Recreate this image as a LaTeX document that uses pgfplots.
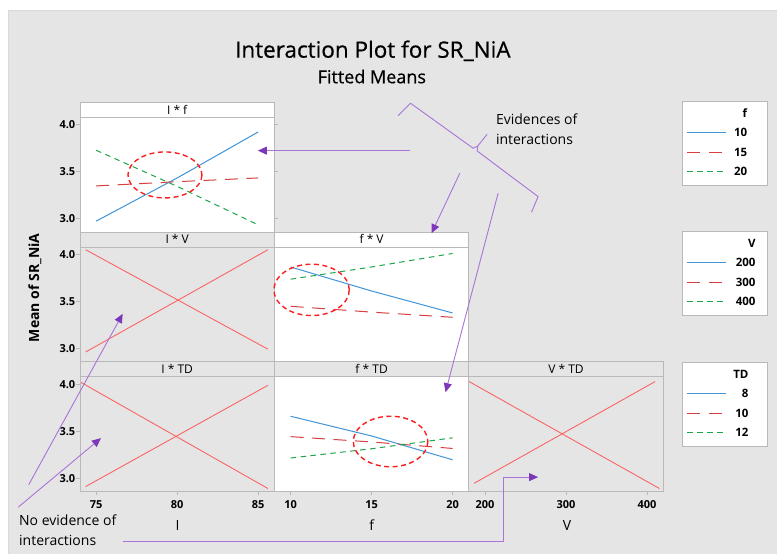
\documentclass[border=0pt]{standalone}
\usepackage{fontspec}
\setmainfont{Open Sans}
\newfontfamily\mdfont{Open Sans}[FakeBold=0.6]
\usepackage{pgfplots}
\pgfplotsset{compat=1.18}
\usetikzlibrary{arrows.meta}
\definecolor{bg}{RGB}{229,229,229}
\definecolor{bord}{RGB}{185,185,185}
\definecolor{mblue}{RGB}{64,148,216}
\definecolor{mred}{RGB}{214,64,64}
\definecolor{mgreen}{RGB}{30,165,75}
\definecolor{xred}{RGB}{250,100,100}
\definecolor{ellred}{RGB}{250,30,30}
\definecolor{purp}{RGB}{125,55,185}
\definecolor{purpl}{RGB}{170,115,215}
\tikzset{
  bl/.style={color=mblue, line width=1pt},
  rd/.style={color=mred, line width=1pt, dash pattern=on 13pt off 8.5pt},
  gr/.style={color=mgreen, line width=1pt, dash pattern=on 5.5pt off 4.5pt},
  xl/.style={color=xred, line width=0.9pt},
  legtext/.style={anchor=base east, font=\fontsize{11.5}{14}\selectfont\bfseries},
}
\pgfplotsset{
  panel/.style={scale only axis, width=194.5pt, height=115pt, anchor=south west,
    ymin=2.855, ymax=4.08,
    axis line style={draw=bord, line width=0.8pt},
    tick align=outside, major tick length=3.5pt,
    tick style={draw=bord, line width=0.8pt},
    xtick=\empty, ytick=\empty,
    tick label style={font=\fontsize{11}{13}\selectfont\bfseries},
    yticklabel style={inner sep=1pt},
    xticklabel style={inner sep=2pt, yshift=-3pt},
  },
  ylab/.style={ytick={3,3.5,4}, yticklabels={3.0,3.5,4.0}},
  legbox/.style={scale only axis, width=85pt, height=84pt, anchor=south west,
    xmin=0, xmax=85, ymin=0, ymax=84, xtick=\empty, ytick=\empty,
    axis line style={draw=bord, line width=0.8pt},
    axis background/.style={fill=white}},
}
\begin{document}
\begin{tikzpicture}[x=1pt,y=1pt]
\fill[white] (0,0) rectangle (777,554);
\fill[bg] (8,0) rectangle (777,544);
\draw[black!15, line width=0.6pt] (8,0) -- (8,544) -- (777,544);

% ---------- legend boxes ----------
\begin{axis}[legbox, at={(682.3pt,368.3pt)}]
\addplot[bl] coordinates {(5,53.2) (43.7,53.2)};
\addplot[rd] coordinates {(5,33.2) (43.7,33.2)};
\addplot[gr] coordinates {(5,14.2) (43.7,14.2)};
\node[legtext] at (axis cs:68.7,68.5) {f};
\node[legtext] at (axis cs:68.7,49) {10};
\node[legtext] at (axis cs:68.7,29) {15};
\node[legtext] at (axis cs:68.7,10.5) {20};
\end{axis}
\begin{axis}[legbox, at={(682.3pt,238.3pt)}]
\addplot[bl] coordinates {(5,53.2) (43.7,53.2)};
\addplot[rd] coordinates {(5,33.2) (43.7,33.2)};
\addplot[gr] coordinates {(5,14.2) (43.7,14.2)};
\node[legtext] at (axis cs:77,68.5) {V};
\node[legtext] at (axis cs:77,49) {200};
\node[legtext] at (axis cs:77,29) {300};
\node[legtext] at (axis cs:77,10.5) {400};
\end{axis}
\begin{axis}[legbox, at={(682.3pt,107.3pt)}]
\addplot[bl] coordinates {(5,53.2) (43.7,53.2)};
\addplot[rd] coordinates {(5,33.2) (43.7,33.2)};
\addplot[gr] coordinates {(5,14.2) (43.7,14.2)};
\node[legtext] at (axis cs:70,68.5) {TD};
\node[legtext] at (axis cs:70,49) {8};
\node[legtext] at (axis cs:70,29) {10};
\node[legtext] at (axis cs:70,10.5) {12};
\end{axis}

% ---------- row 1: I*f ----------
\begin{axis}[panel, ylab, at={(80pt,322pt)}, xmin=74, xmax=86,
  axis background/.style={fill=white}]
\addplot[bl] coordinates {(75,2.97) (80,3.43) (85,3.92)};
\addplot[rd] coordinates {(75,3.345) (80,3.39) (85,3.43)};
\addplot[gr] coordinates {(75,3.725) (80,3.34) (85,2.93)};
\end{axis}

% ---------- row 2: I*V ----------
\begin{axis}[panel, ylab, at={(80pt,192pt)}, xmin=74, xmax=86]
\addplot[xl] coordinates {(74.35,4.05) (85.6,2.99)};
\addplot[xl] coordinates {(74.35,2.96) (85.6,4.05)};
\end{axis}

% ---------- row 2: f*V ----------
\begin{axis}[panel, at={(274.5pt,192pt)}, xmin=9, xmax=21,
  axis background/.style={fill=white}]
\addplot[bl] coordinates {(10,3.866) (15,3.61) (20,3.376)};
\addplot[rd] coordinates {(10,3.447) (15,3.385) (20,3.33)};
\addplot[gr] coordinates {(10,3.736) (15,3.866) (20,4.01)};
\end{axis}

% ---------- row 3: I*TD ----------
\begin{axis}[panel, ylab, at={(80pt,62pt)}, xmin=74, xmax=86,
  xtick={75,80,85}, xticklabels={75,80,85}]
\addplot[xl] coordinates {(74.07,4.02) (85.6,2.89)};
\addplot[xl] coordinates {(74.34,2.91) (85.6,3.99)};
\end{axis}

% ---------- row 3: f*TD ----------
\begin{axis}[panel, at={(274.5pt,62pt)}, xmin=9, xmax=21,
  xtick={10,15,20}, xticklabels={10,15,20},
  axis background/.style={fill=white}]
\addplot[bl] coordinates {(10,3.66) (15,3.45) (20,3.196)};
\addplot[rd] coordinates {(10,3.443) (15,3.386) (20,3.317)};
\addplot[gr] coordinates {(10,3.215) (15,3.314) (20,3.43)};
\end{axis}

% ---------- row 3: V*TD ----------
\begin{axis}[panel, at={(469pt,62pt)}, xmin=180, xmax=420,
  xtick={200,300,400}, xticklabels={200,300,400}]
\addplot[xl] coordinates {(180.3,4.03) (415.3,2.89)};
\addplot[xl] coordinates {(186.4,2.945) (410,4.03)};
\end{axis}

\begin{scope}[shift={(0,554)}, y=-1pt]
\tikzset{strip/.style={bord, line width=0.8pt}, stxt/.style={font=\fontsize{12}{14}\selectfont}}
\draw[strip, fill=white] (80,102) rectangle (274.5,117);
\node[stxt] at (177.25,109.5) {I * f};
\draw[strip, fill=bg] (80,232) rectangle (274.5,247);
\node[stxt] at (177.25,239.5) {I * V};
\draw[strip, fill=white] (274.5,232) rectangle (469,247);
\node[stxt] at (371.75,239.5) {f * V};
\draw[strip, fill=bg] (80,362) rectangle (663.5,377);
\draw[strip] (274.5,362) -- (274.5,377) (469,362) -- (469,377);
\node[stxt] at (177.25,369.5) {I * TD};
\node[stxt] at (371.75,369.5) {f * TD};
\node[stxt] at (566.25,369.5) {V * TD};

\node[rotate=90, font=\fontsize{14}{16}\selectfont\bfseries] at (35,288) {Mean of SR\_NiA};
\node[anchor=base, font=\fontsize{14}{16}\selectfont] at (177.7,530.7) {I};
\node[anchor=base, font=\fontsize{14}{16}\selectfont] at (372,530.7) {f};
\node[anchor=base, font=\fontsize{14}{16}\selectfont] at (567.3,530.7) {V};

\tikzset{ell/.style={ellred, line width=1.4pt, dash pattern=on 5pt off 3.5pt}}
\draw[ell] (165,175) ellipse [x radius=37, y radius=23];
\draw[ell] (311.7,290) ellipse [x radius=37.7, y radius=25.7];
\draw[ell] (390.7,441.7) ellipse [x radius=37.3, y radius=25.3];

\tikzset{pa/.style={purpl, line width=0.9pt, line join=round},
  ar/.style={pa, -{Triangle[length=9pt, width=8pt, color=purp]}}}
\draw[ar] (410,150.7) -- (258,150.7);
\draw[pa] (398.3,115.7) -- (410.7,103.3) -- (473.3,148.3) -- (478,146) -- (487.3,134.3);
\draw[pa] (478,146) -- (477.3,151) -- (538.3,196.7) -- (531.7,212.3);
\draw[ar] (460,173.3) -- (431.7,233.3);
\draw[ar] (498.3,193.3) -- (445.7,392.3);
\draw[ar] (28.7,485) -- (122.7,314);
\draw[ar] (18.3,507.3) -- (101,438.3);
\draw[ar] (122.7,541.7) -- (503.3,541.7) -- (503.3,477.3) -- (538.3,477.3);
\node[anchor=west, align=left, font=\fontsize{14}{20}\selectfont, inner sep=0pt] at (496,129) {Evidences of\\interactions};
\node[anchor=west, align=left, font=\fontsize{14}{20}\selectfont, inner sep=0pt] at (19,530) {No evidence of\\interactions};

\node[anchor=base, font=\fontsize{22.5}{26}\mdfont] at (373,57.7) {Interaction Plot for SR\_NiA};
\node[anchor=base, font=\fontsize{18}{22}\mdfont] at (372,83.3) {Fitted Means};
\end{scope}
\end{tikzpicture}
\end{document}
